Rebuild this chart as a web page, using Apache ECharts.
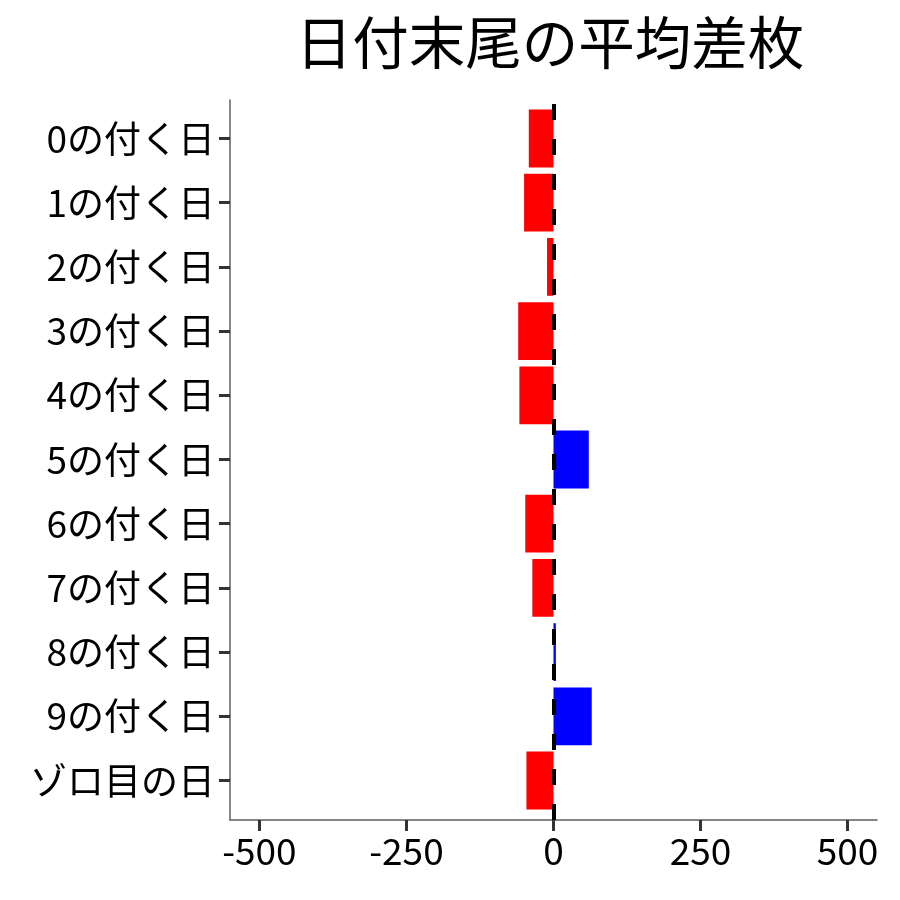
<!DOCTYPE html>
<html>
<head>
<meta charset="utf-8">
<script src="https://cdn.jsdelivr.net/npm/echarts@6/dist/echarts.min.js"></script>
<style>html,body{margin:0;padding:0;background:#fff}#c{width:900px;height:900px}</style>
</head>
<body>
<div id="c"></div>
<script>
const titleText = '日付末尾の平均差枚';
const categories = ['0の付く日','1の付く日','2の付く日','3の付く日','4の付く日','5の付く日','6の付く日','7の付く日','8の付く日','9の付く日','ゾロ目の日'];
const values = [-42, -50, -11, -60, -58, 60, -48, -36, 4, 65, -46];
const xTicks = [-500, -250, 0, 250, 500];
const xMin = -550, xMax = 550;

const FONT = '"Noto Sans CJK JP", "Noto Sans", sans-serif';
const chart = echarts.init(document.getElementById('c'));
chart.setOption({
  backgroundColor: '#ffffff',
  animation: false,
  title: {
    text: titleText, left: 545, top: 9, textAlign: 'center',
    textStyle: {fontFamily: FONT, fontSize: 56.5, fontWeight: 'normal', color: '#000'}
  },
  grid: [
    {left: 230, right: 23, top: 106.4, bottom: 87.4},
    {left: 230, right: 23, top: 100, bottom: 80}
  ],
  xAxis: [
    {gridIndex: 0, type: 'value', min: xMin, max: xMax, show: false},
    {gridIndex: 1, type: 'value', min: xMin, max: xMax,
      axisLine: {show: true, onZero: false, lineStyle: {color: '#5e5e5e', width: 1.5}},
      axisTick: {show: true, length: 11, customValues: xTicks, lineStyle: {color: '#333', width: 3}},
      axisLabel: {customValues: xTicks, fontFamily: FONT, fontSize: 37, color: '#000', margin: 12},
      splitLine: {show: false}
    }
  ],
  yAxis: [
    {gridIndex: 0, type: 'category', data: categories, inverse: true,
      axisLine: {show: false, onZero: false},
      axisTick: {show: true, alignWithLabel: true, length: 11, lineStyle: {color: '#333', width: 3}},
      axisLabel: {fontFamily: FONT, fontSize: 37, color: '#000', margin: 15}
    },
    {gridIndex: 1, type: 'value', min: 0, max: 1,
      axisLine: {show: true, onZero: false, lineStyle: {color: '#5e5e5e', width: 1.5}},
      axisTick: {show: false}, axisLabel: {show: false}, splitLine: {show: false}
    }
  ],
  series: [
    {type: 'bar', xAxisIndex: 0, yAxisIndex: 0, barCategoryGap: '10%',
      data: values.map(v => ({value: v, itemStyle: {color: v < 0 ? '#FF0000' : '#0000FF'}})),
      z: 2
    },
    {type: 'scatter', xAxisIndex: 1, yAxisIndex: 1, data: [], z: 5,
      markLine: {silent: true, symbol: ['none','none'], label: {show: false},
        lineStyle: {color: '#000', width: 4, type: [16, 19]},
        data: [{xAxis: 0}]
      }
    }
  ]
});
</script>
</body>
</html>
